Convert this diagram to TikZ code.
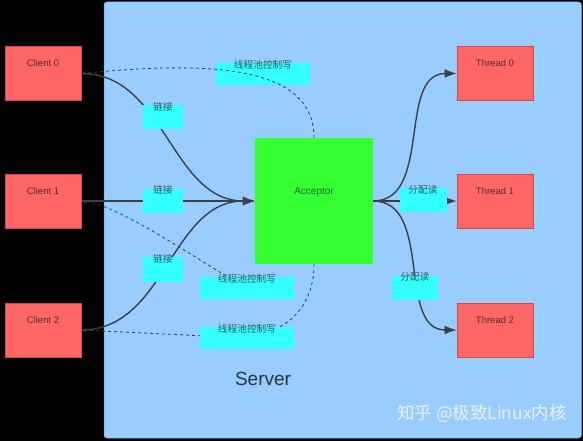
\documentclass[tikz,border=0pt]{standalone}
\usepackage{fontspec}
\setmainfont{Liberation Sans}
\newfontfamily\cjk{Noto Sans CJK SC}
\usetikzlibrary{arrows.meta}

\definecolor{panelblue}{HTML}{99CCFF}
\definecolor{boxred}{HTML}{FF6666}
\definecolor{boxredline}{HTML}{D04848}
\definecolor{accgreen}{HTML}{33FF33}
\definecolor{tagcyan}{HTML}{33FFFF}
\definecolor{wirecol}{HTML}{3A3F48}
\definecolor{redtext}{HTML}{5A2A2A}
\definecolor{greentext}{HTML}{2A6A2A}
\definecolor{cyantext}{HTML}{2E5E60}
\definecolor{servertext}{HTML}{2A3644}

\pgfdeclarelayer{panel}
\pgfdeclarelayer{wires}
\pgfsetlayers{panel,wires,main}

\tikzset{
  redbox/.style={rectangle, fill=boxred, draw=boxredline, line width=0.8pt, inner sep=0pt,
    minimum width=76pt, minimum height=54pt,
    label={[text=redtext, font=\fontsize{9.5}{11}\selectfont, anchor=north, yshift=-10pt]north:#1}},
  tagbox/.style={rectangle, fill=tagcyan, inner sep=0pt,
    label={[text=cyantext, font=\cjk\fontsize{9.7}{11}\selectfont, anchor=center, yshift=-2pt]north:#1}},
  joinline/.style={draw=wirecol, line width=1.4pt, -{Latex[length=12pt,width=9pt]}},
  writeline/.style={draw=wirecol, line width=0.8pt, dashed, -{Stealth[length=5pt,width=4pt]}},
}

\begin{document}
\begin{tikzpicture}[x=1pt, y=-1pt]

  \useasboundingbox (0,0) rectangle (583,441);

  \node[redbox=Client 0] (c0) at (43,73.5) {};
  \node[redbox=Client 1] (c1) at (43,201) {};
  \node[redbox=Client 2] (c2) at (43,330) {};

  \node[redbox=Thread 0] (t0) at (495,73.5) {};
  \node[redbox=Thread 1] (t1) at (495,201) {};
  \node[redbox=Thread 2] (t2) at (495,330) {};

  \node[rectangle, fill=accgreen, inner sep=0pt, minimum width=118pt, minimum height=126pt,
    label={[text=greentext, font=\fontsize{10}{12}\selectfont, anchor=center, yshift=-54pt]north:Acceptor}] (acc) at (314,201) {};

  \node[tagbox=链接, minimum width=40pt, minimum height=24pt] (l0) at (163,117) {};
  \node[tagbox=链接, minimum width=40pt, minimum height=24pt] (l1) at (163,200.5) {};
  \node[tagbox=链接, minimum width=40pt, minimum height=25pt] (l2) at (163,269.5) {};

  \node[tagbox=线程池控制写, minimum width=94pt, minimum height=22pt] (w0) at (263,74) {};
  \node[tagbox=线程池控制写, minimum width=94pt, minimum height=22pt] (w1) at (247,288) {};
  \node[tagbox=线程池控制写, minimum width=94pt, minimum height=22pt] (w2) at (247,338) {};

  \node[tagbox=分配读, minimum width=47pt, minimum height=24pt] (d0) at (423,200) {};
  \node[tagbox=分配读, minimum width=46pt, minimum height=24pt] (d1) at (415,287.5) {};

  \node[text=servertext, font=\fontsize{19}{22}\selectfont] (srv) at (263,379) {Server};
  \node[text=white!94!black, font=\cjk\fontsize{17.5}{20}\selectfont] (wm) at (482,414) {知乎 @极致Linux内核};

  \begin{pgfonlayer}{panel}
    \fill[black] (0,0) rectangle (583,441);
    \filldraw[fill=panelblue, draw=panelblue!80!black, line width=0.5pt, rounded corners=3pt] (104,2) rectangle (581.5,438);
  \end{pgfonlayer}

  \begin{pgfonlayer}{wires}
    \draw[joinline] (c0.east) to[out=0, in=180] (acc.west);
    \draw[joinline] (c1.east) -- (acc.west);
    \draw[joinline] (c2.east) to[out=0, in=180] (acc.west);

    \draw[joinline] (acc.east) to[out=0, in=180] (t0.west);
    \draw[joinline] (acc.east) -- (t1.west);
    \draw[joinline] (acc.east) to[out=0, in=180] (t2.west);

    \draw[writeline] (w1.center) .. controls (200,262) and (120,205) .. (c1.east);
    \draw[writeline] (acc.south) .. controls (314,300) and (295,330) .. (w2.center) -- (c2.east);
  \end{pgfonlayer}

  \draw[writeline] (acc.north) .. controls (314,62) and (200,62) .. (c0.east);

\end{tikzpicture}
\end{document}
